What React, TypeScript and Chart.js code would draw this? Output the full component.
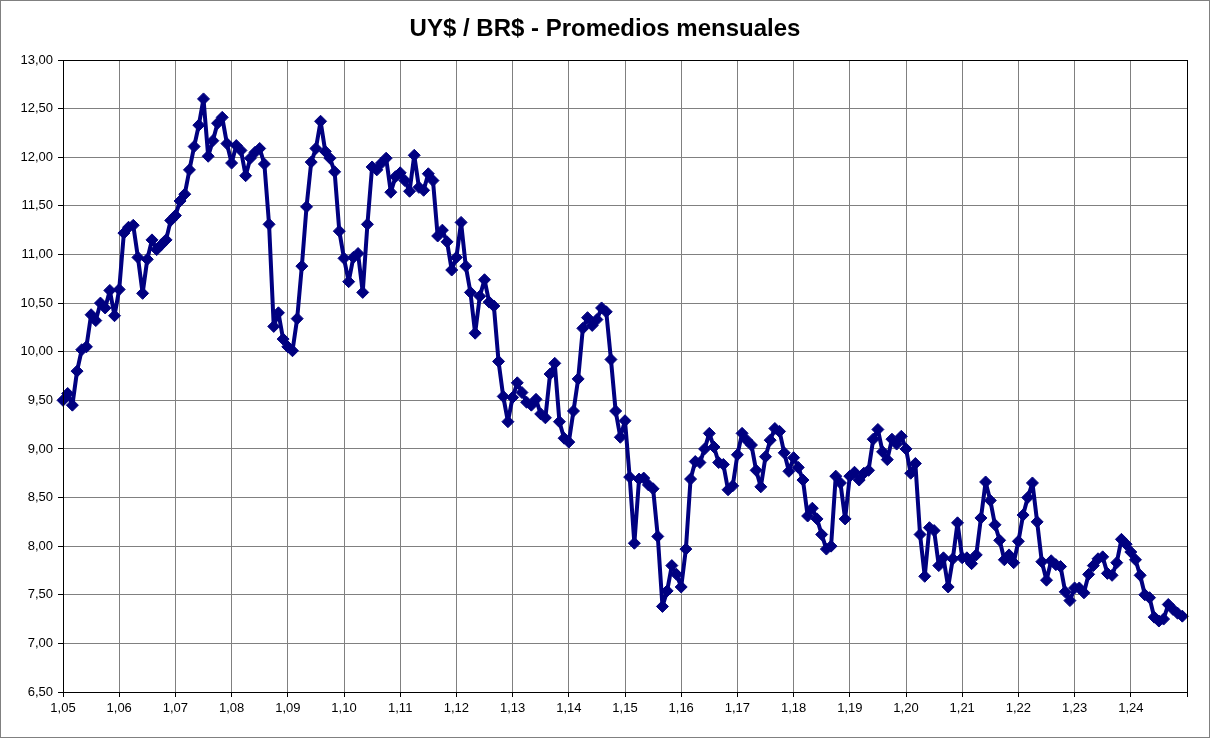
import React, { useEffect, useRef } from "react";
import { Chart, registerables } from "chart.js";

Chart.register(...registerables);

const TITLE = "UY$ / BR$ - Promedios mensuales";

const yearLabels = [
  "1,05", "1,06", "1,07", "1,08", "1,09", "1,10", "1,11", "1,12", "1,13", "1,14",
  "1,15", "1,16", "1,17", "1,18", "1,19", "1,20", "1,21", "1,22", "1,23", "1,24",
];

const v2005 = [9.5, 9.57, 9.45, 9.8, 10.02, 10.05, 10.38, 10.32, 10.5, 10.45, 10.63, 10.37];
const v2006 = [10.64, 11.22, 11.28, 11.3, 10.97, 10.6, 10.95, 11.15, 11.05, 11.1, 11.15, 11.35];
const v2007 = [11.4, 11.55, 11.62, 11.87, 12.11, 12.33, 12.6, 12.01, 12.17, 12.35, 12.41, 12.14];
const v2008 = [11.94, 12.12, 12.07, 11.81, 11.99, 12.05, 12.09, 11.93, 11.31, 10.26, 10.4, 10.13];
const v2009 = [10.05, 10.01, 10.34, 10.88, 11.49, 11.95, 12.09, 12.37, 12.06, 11.99, 11.85, 11.24];
const v2010 = [10.96, 10.72, 10.97, 11.01, 10.61, 11.31, 11.9, 11.87, 11.94, 11.99, 11.64, 11.8];
const v2011 = [11.84, 11.76, 11.65, 12.02, 11.69, 11.66, 11.83, 11.76, 11.19, 11.25, 11.13, 10.84];
const v2012 = [10.97, 11.33, 10.88, 10.61, 10.19, 10.57, 10.74, 10.51, 10.47, 9.9, 9.54, 9.28];
const v2013 = [9.53, 9.68, 9.58, 9.48, 9.45, 9.51, 9.36, 9.32, 9.77, 9.88, 9.28, 9.11];
const v2014 = [9.07, 9.39, 9.72, 10.24, 10.35, 10.27, 10.33, 10.45, 10.41, 9.92, 9.39, 9.12];
const v2015 = [9.29, 8.71, 8.03, 8.69, 8.7, 8.63, 8.59, 8.1, 7.38, 7.54, 7.8, 7.71];
const v2016 = [7.58, 7.97, 8.69, 8.87, 8.86, 9.0, 9.16, 9.02, 8.86, 8.84, 8.58, 8.62];
const v2017 = [8.94, 9.16, 9.09, 9.04, 8.78, 8.61, 8.92, 9.09, 9.21, 9.18, 8.96, 8.77];
const v2018 = [8.91, 8.81, 8.68, 8.31, 8.39, 8.28, 8.12, 7.97, 8.0, 8.72, 8.65, 8.28];
const v2019 = [8.72, 8.76, 8.68, 8.75, 8.78, 9.1, 9.2, 8.97, 8.89, 9.1, 9.05, 9.13];
const v2020 = [9.0, 8.75, 8.85, 8.12, 7.69, 8.19, 8.16, 7.8, 7.88, 7.58, 7.87, 8.24];
const v2021 = [7.88, 7.88, 7.82, 7.91, 8.29, 8.66, 8.47, 8.22, 8.06, 7.86, 7.91, 7.83];
const v2022 = [8.05, 8.32, 8.5, 8.65, 8.25, 7.84, 7.65, 7.85, 7.81, 7.79, 7.53, 7.44];
const v2023 = [7.57, 7.57, 7.52, 7.71, 7.8, 7.87, 7.89, 7.72, 7.7, 7.83, 8.07, 8.02];
const v2024 = [7.94, 7.86, 7.7, 7.5, 7.47, 7.27, 7.23, 7.25, 7.4, 7.35, 7.31, 7.28];

const yMin = 6.5;
const yMax = 13;
const yStep = 0.5;

export default function App() {
  const canvasRef = useRef<HTMLCanvasElement | null>(null);

  useEffect(() => {
    document.body.style.margin = "0";
    const canvas = canvasRef.current;
    if (!canvas) return;

    const values = [
      ...v2005, ...v2006, ...v2007, ...v2008, ...v2009, ...v2010, ...v2011,
      ...v2012, ...v2013, ...v2014, ...v2015, ...v2016, ...v2017, ...v2018,
      ...v2019, ...v2020, ...v2021, ...v2022, ...v2023, ...v2024,
    ];
    // category slots: one per month, plus the axis end slot
    const labels: string[] = [];
    for (let i = 0; i <= values.length; i++) {
      labels.push(i % 12 === 0 && yearLabels[i / 12] ? yearLabels[i / 12] : "");
    }

    const font = "'Liberation Sans', Arial, sans-serif";

    const titlePlugin = {
      id: "excelTitle",
      afterDraw(chart: any) {
        const ctx = chart.ctx;
        ctx.save();
        ctx.font = `bold 24px ${font}`;
        ctx.fillStyle = "#000";
        ctx.textAlign = "center";
        ctx.textBaseline = "middle";
        ctx.fillText(TITLE, 605, 29);
        ctx.restore();
      },
    };

    const framePlugin = {
      id: "frame",
      afterDraw(chart: any) {
        const ctx = chart.ctx;
        const a = chart.chartArea;
        ctx.save();
        ctx.strokeStyle = "#000";
        ctx.lineWidth = 1;
        ctx.strokeRect(Math.round(a.left) + 0.5, Math.round(a.top) + 0.5, Math.round(a.right - a.left), Math.round(a.bottom - a.top));
        ctx.strokeStyle = "#808080";
        ctx.strokeRect(0.5, 0.5, 1209, 737);
        ctx.restore();
      },
    };

    const chart = new Chart(canvas, {
      type: "line",
      data: {
        labels,
        datasets: [
          {
            data: values,
            borderColor: "#000080",
            backgroundColor: "#000080",
            borderWidth: 4,
            borderJoinStyle: "round",
            borderCapStyle: "round",
            pointStyle: "rectRot",
            pointRadius: 6,
            pointBorderWidth: 1,
            pointBorderColor: "#000080",
            pointBackgroundColor: "#000080",
            tension: 0,
          },
        ],
      },
      options: {
        responsive: false,
        animation: false,
        layout: { padding: { left: 0, right: 23, top: 60, bottom: 0 } },
        plugins: {
          legend: { display: false },
          title: { display: false },
          tooltip: { enabled: false },
        },
        scales: {
          x: {
            type: "category",
            offset: false,
            afterFit(scale: any) {
              scale.height = 46;
            },
            grid: {
              color: (c: any) => (c.index % 12 === 0 ? "#808080" : "rgba(0,0,0,0)"),
              tickColor: (c: any) => (c.index % 12 === 0 ? "#000" : "rgba(0,0,0,0)"),
              tickLength: 5,
              lineWidth: 1,
            },
            border: { color: "#000", width: 1 },
            ticks: {
              autoSkip: false,
              maxRotation: 0,
              minRotation: 0,
              color: "#000",
              padding: 4,
              font: { family: font, size: 13 },
            },
          },
          y: {
            min: yMin,
            max: yMax,
            afterFit(scale: any) {
              scale.width = 63;
            },
            grid: { color: "#808080", tickColor: "#000", tickLength: 5, lineWidth: 1 },
            border: { color: "#000", width: 1 },
            ticks: {
              stepSize: yStep,
              color: "#000",
              padding: 5,
              font: { family: font, size: 13 },
              callback: (v: any) => Number(v).toFixed(2).replace(".", ","),
            },
          },
        },
      },
      plugins: [titlePlugin, framePlugin],
    });

    return () => chart.destroy();
  }, []);

  return (
    <div style={{ width: 1210, height: 738, background: "#fff" }}>
      <canvas ref={canvasRef} width={1210} height={738} />
    </div>
  );
}
